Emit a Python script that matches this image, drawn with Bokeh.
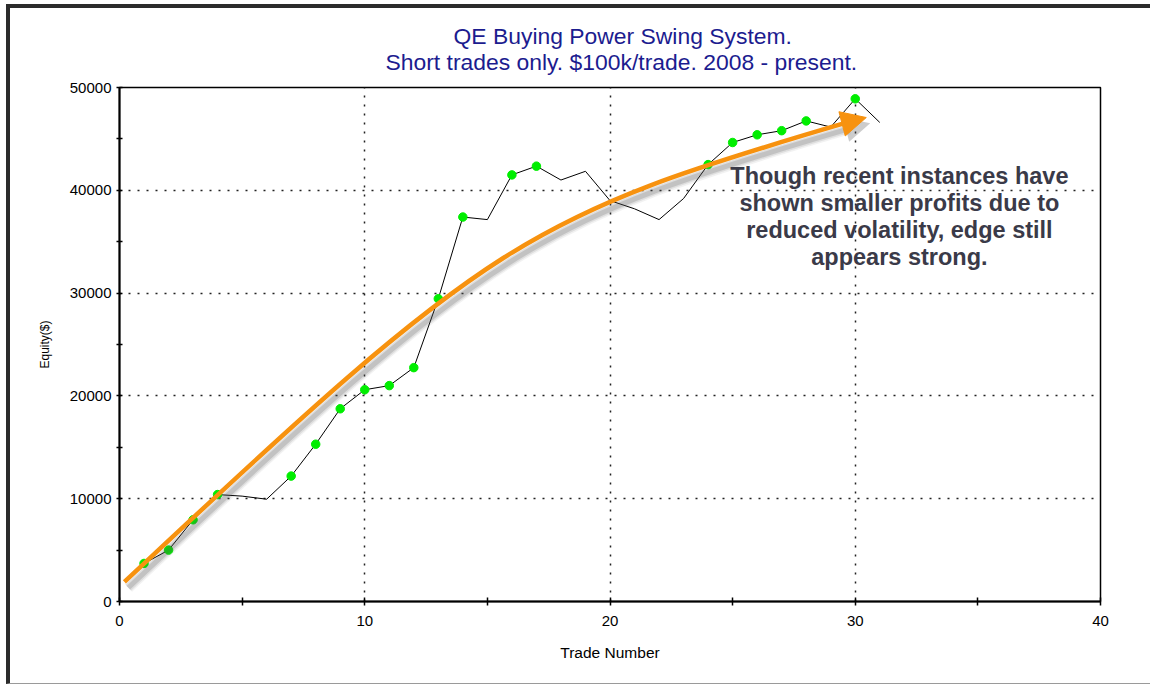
from bokeh.plotting import figure
from bokeh.models import Title, FixedTicker, Arrow, NormalHead, Range1d, BasicTickFormatter
from bokeh.core.properties import value
from bokeh.embed import file_html
from bokeh.resources import INLINE

# ---------------- data ----------------
trade_number = list(range(1, 32))
equity = [3700, 5000, 7950, 10400, 10250, 9950, 12200, 15300, 18750, 20600,
          21000, 22750, 29450, 37400, 37150, 41500, 42350, 41000, 41850, 39000,
          38200, 37150, 39200, 42500, 44650, 45400, 45800, 46750, 46150, 48900,
          46600]
marked_trades = [1, 2, 3, 4, 7, 8, 9, 10, 11, 12, 13, 14, 16, 17, 24, 25, 26, 27, 28, 30]
marked_equity = [equity[t - 1] for t in marked_trades]

x_major_ticks = [0, 10, 20, 30, 40]
x_minor_ticks = [5, 15, 25, 35]
y_major_ticks = [0, 10000, 20000, 30000, 40000, 50000]
y_minor_ticks = [5000, 15000, 25000, 35000, 45000]

# hand-drawn trend arrow (annotation): bezier start, controls, end, and arrow tip
trend_x = [0.2, 15.2, 16.6, 29.6]
trend_y = [1900, 35500, 37450, 46550]
trend_tip = [30.45, 47080]

title_line1 = "QE Buying Power Swing System."
title_line2 = "Short trades only. $100k/trade. 2008 - present."
note_lines = ["Though recent instances have", "shown smaller profits due to",
              "reduced volatility, edge still", "appears strong."]

# ---------------- figure ----------------
FONT = "Liberation Sans"
ORANGE = "#f7920f"
FRAME_BOTTOM = 601
y_per_px = 50000 / 514.0

p = figure(width=1138, height=675, output_backend="svg", toolbar_location=None,
           x_range=Range1d(0, 40), y_range=Range1d(0, 50000),
           min_border_left=109, min_border_right=48, min_border_top=79,
           min_border_bottom=82)
p.background_fill_color = "white"
p.border_fill_color = "white"
p.outline_line_color = "black"
p.outline_line_width = 1.5

t2 = Title(text=title_line2, align="left", offset=266, text_font=FONT, text_font_size="22.9px",
           text_font_style="normal", text_color="#1c1c8f", standoff=25)
t1 = Title(text=title_line1, align="left", offset=334, text_font=FONT, text_font_size="22.9px",
           text_font_style="normal", text_color="#1c1c8f", standoff=-29)
p.add_layout(t2, "above")
p.add_layout(t1, "above")

# axes
p.xaxis.ticker = FixedTicker(ticks=x_major_ticks, minor_ticks=x_minor_ticks)
p.yaxis.ticker = FixedTicker(ticks=y_major_ticks, minor_ticks=y_minor_ticks)
p.yaxis.formatter = BasicTickFormatter(use_scientific=False)
for ax in (p.xaxis[0], p.yaxis[0]):
    ax.axis_line_color = "black"
    ax.axis_line_width = 2
    ax.major_tick_line_color = "black"
    ax.minor_tick_line_color = "black"
    ax.major_tick_line_width = 1.5
    ax.minor_tick_line_width = 1.5
    ax.major_label_text_font = FONT
    ax.major_label_text_font_size = "15px"
    ax.major_label_text_color = "black"
    ax.axis_label_text_font = FONT
    ax.axis_label_text_font_style = "normal"
    ax.axis_label_text_color = "black"
p.xaxis.major_tick_in = 4
p.xaxis.major_tick_out = 4
p.xaxis.minor_tick_in = 4
p.xaxis.minor_tick_out = 4
p.yaxis.major_tick_in = 3
p.yaxis.major_tick_out = 3
p.yaxis.minor_tick_in = 3
p.yaxis.minor_tick_out = 3
p.xaxis.major_label_standoff = 10
p.yaxis.major_label_standoff = 5
p.xaxis.axis_label = "Trade Number"
p.yaxis.axis_label = "Equity($)"
p.xaxis.axis_label_text_font_size = "15.5px"
p.yaxis.axis_label_text_font_size = "12px"
p.xaxis.axis_label_standoff = 15
p.yaxis.axis_label_standoff = 15

# grid
for g in (p.xgrid[0], p.ygrid[0]):
    g.grid_line_color = "#222222"
    g.grid_line_dash = "2 7"
    g.grid_line_width = 1.5
p.xgrid.ticker = FixedTicker(ticks=[10, 20, 30])
p.ygrid.ticker = FixedTicker(ticks=[10000, 20000, 30000, 40000])

# equity line and markers
p.line(trade_number, equity, line_color="black", line_width=1)
p.scatter(marked_trades, marked_equity, size=8.5, fill_color="#00ee00", line_color="#00ee00")

# trend arrow shadow
sdx, sdy = 0.16, -560
for w, a in ((11, 0.08), (8, 0.12), (5, 0.2)):
    p.bezier(x0=[trend_x[0] + sdx], y0=[trend_y[0] + sdy], x1=[trend_x[3] + sdx], y1=[trend_y[3] + sdy],
             cx0=[trend_x[1] + sdx], cy0=[trend_y[1] + sdy], cx1=[trend_x[2] + sdx], cy1=[trend_y[2] + sdy],
             line_color="#555555", line_alpha=a, line_width=w)
p.add_layout(Arrow(end=NormalHead(size=25, fill_color="#555555", fill_alpha=0.3, line_alpha=0),
                   x_start=trend_x[3] + sdx, y_start=trend_y[3] + sdy,
                   x_end=trend_tip[0] + sdx, y_end=trend_tip[1] + sdy,
                   line_alpha=0))

# trend arrow
p.bezier(x0=[trend_x[0]], y0=[trend_y[0]], x1=[trend_x[3]], y1=[trend_y[3]],
         cx0=[trend_x[1]], cy0=[trend_y[1]], cx1=[trend_x[2]], cy1=[trend_y[2]],
         line_color=ORANGE, line_width=4.5)
p.add_layout(Arrow(end=NormalHead(size=25, fill_color=ORANGE, line_color=ORANGE, line_width=1),
                   x_start=trend_x[3], y_start=trend_y[3],
                   x_end=trend_tip[0], y_end=trend_tip[1],
                   line_color=ORANGE, line_width=4.5))

# annotation text
note_x = [31.8] * len(note_lines)
note_y = [(FRAME_BOTTOM - (175 + 27.2 * i)) * y_per_px for i in range(len(note_lines))]
p.text(x=note_x, y=note_y, text=note_lines, text_font=value(FONT), text_font_size="23.5px",
       text_font_style="bold", text_color="#3a3a48", text_align="center", text_baseline="middle")

html = file_html(p, INLINE, title="QE Buying Power Swing System")
page_css = ("<style>html{margin:0!important;padding:0!important;background:white;}"
            "body{margin:4px 0 0 6px!important;padding:0!important;width:auto!important;"
            "height:auto!important;border-top:4px solid #2b2b2b!important;"
            "border-left:4px solid #2b2b2b!important;"
            "border-bottom:1px solid #9a9a9a!important;}</style></head>")
html = html.replace("</head>", page_css, 1)
open("out.html", "w").write(html)
